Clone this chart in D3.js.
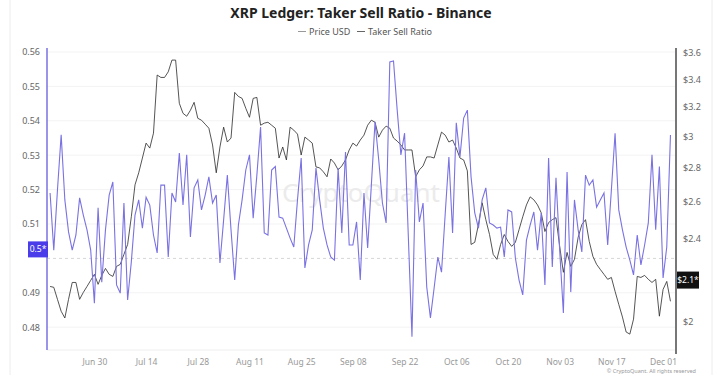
<!DOCTYPE html>
<html>
<head>
<meta charset="utf-8">
<script src="https://cdn.jsdelivr.net/npm/d3@7"></script>
<style>
  body { margin: 0; background: #fff; }
  svg { display: block; font-family: "Noto Sans", "Open Sans", sans-serif; }
</style>
</head>
<body>
<div id="chart"></div>
<script>
const TITLE = 'XRP Ledger: Taker Sell Ratio - Binance';
const SERIES = ['Price USD', 'Taker Sell Ratio'];
const START_DAY = '2025-06-18';
const END_DAY = '2025-12-03';

// daily taker sell ratio (left axis)
const ratio = [
  0.5190, 0.5024, 0.5199, 0.5359, 0.5170, 0.5077, 0.5024, 0.5068, 0.5176, 0.5126,
  0.5083, 0.5024, 0.4870, 0.5147, 0.4931, 0.5083, 0.5184, 0.5222, 0.4923, 0.4899,
  0.5161, 0.4879, 0.4990, 0.5126, 0.5170, 0.5088, 0.5178, 0.5155, 0.5068, 0.5016,
  0.5213, 0.5213, 0.5004, 0.5190, 0.5164, 0.5306, 0.5155, 0.5301, 0.5062, 0.5205,
  0.5228, 0.5141, 0.5184, 0.5237, 0.5161, 0.5184, 0.4987, 0.5112, 0.5242, 0.5083,
  0.4937, 0.5097, 0.5170, 0.5257, 0.5301, 0.5117, 0.5242, 0.5382, 0.5074, 0.5068,
  0.5257, 0.5267, 0.5120, 0.5117, 0.5088, 0.5059, 0.5033, 0.5170, 0.5292, 0.4972,
  0.5039, 0.5083, 0.5263, 0.5170, 0.5088, 0.5039, 0.5004, 0.4995, 0.5263, 0.5074,
  0.5309, 0.5039, 0.5039, 0.5106, 0.4937, 0.5190, 0.5030, 0.5213, 0.5397, 0.5286,
  0.5161, 0.5103, 0.5571, 0.5574, 0.5431, 0.5301, 0.5364, 0.5068, 0.4772, 0.5257,
  0.5106, 0.5161, 0.4917, 0.4827, 0.4914, 0.5004, 0.4960, 0.5129, 0.5295, 0.5074,
  0.5394, 0.5295, 0.5408, 0.5431, 0.5237, 0.5132, 0.5088, 0.5170, 0.5205, 0.5103,
  0.5097, 0.5088, 0.5091, 0.5004, 0.5141, 0.5135, 0.5001, 0.4937, 0.4894, 0.5053,
  0.5097, 0.5135, 0.5024, 0.5132, 0.4923, 0.5292, 0.4975, 0.5234, 0.5024, 0.4841,
  0.5251, 0.4902, 0.5170, 0.5083, 0.5019, 0.5242, 0.5213, 0.5228, 0.5149, 0.5170,
  0.5190, 0.5039, 0.5199, 0.5364, 0.5141, 0.5083, 0.5033, 0.4995, 0.4952, 0.5068,
  0.4981, 0.5039, 0.5103, 0.5301, 0.5083, 0.5267, 0.4943, 0.5033, 0.5359
];

// daily XRP price in USD (right axis, log)
const price = [
  2.160, 2.156, 2.100, 2.046, 2.016, 2.100, 2.179, 2.179, 2.100, 2.132,
  2.160, 2.189, 2.218, 2.170, 2.213, 2.247, 2.218, 2.208, 2.257, 2.267,
  2.317, 2.368, 2.516, 2.698, 2.770, 2.861, 2.956, 2.924, 3.021, 3.431,
  3.413, 3.413, 3.455, 3.545, 3.545, 3.225, 3.155, 3.135, 3.176, 3.232,
  3.121, 3.108, 3.081, 3.054, 2.944, 2.770, 2.931, 3.061, 2.963, 2.989,
  3.303, 3.274, 3.260, 3.190, 3.128, 3.260, 3.267, 3.074, 3.088, 3.094,
  3.074, 3.054, 2.861, 2.931, 2.849, 3.061, 3.041, 3.015, 2.880, 2.995,
  2.976, 2.956, 2.806, 2.800, 2.776, 2.746, 2.855, 2.830, 2.788, 2.812,
  2.849, 2.912, 2.956, 2.937, 2.976, 3.008, 3.074, 3.108, 3.094, 2.995,
  3.041, 3.068, 3.054, 2.989, 2.969, 2.944, 2.912, 2.912, 2.912, 2.746,
  2.788, 2.812, 2.868, 2.868, 2.861, 2.944, 3.028, 3.008, 2.963, 2.976,
  2.924, 2.861, 2.849, 2.782, 2.368, 2.379, 2.473, 2.594, 2.500, 2.420,
  2.317, 2.292, 2.368, 2.420, 2.384, 2.358, 2.379, 2.446, 2.516, 2.582,
  2.628, 2.611, 2.582, 2.538, 2.436, 2.484, 2.500, 2.511, 2.358, 2.228,
  2.327, 2.257, 2.292, 2.405, 2.473, 2.500, 2.384, 2.307, 2.267, 2.242,
  2.218, 2.194, 2.203, 2.137, 2.077, 2.020, 1.955, 1.946, 2.011, 2.208,
  2.203, 2.213, 2.194, 2.179, 2.194, 2.024, 2.146, 2.184, 2.091
];

const xTickLabels = ['Jun 30', 'Jul 14', 'Jul 28', 'Aug 11', 'Aug 25', 'Sep 08',
  'Sep 22', 'Oct 06', 'Oct 20', 'Nov 03', 'Nov 17', 'Dec 01'];
const ratioTicks = [0.48, 0.49, 0.5, 0.51, 0.52, 0.53, 0.54, 0.55, 0.56];
const priceTicks = [2, 2.2, 2.4, 2.6, 2.8, 3, 3.2, 3.4, 3.6];
const markerLabels = ['0.5*', '$2.1*'];
const markerValues = [0.5, 2.2];

const W = 720, H = 375;
const plotL = 47, plotR = 676, plotT = 48, plotB = 350;
const purple = '#7a72e2';

const parseDay = d3.timeParse('%Y-%m-%d');
const parseTick = d3.timeParse('%b %d %Y');
const days = d3.timeDay.range(parseDay(START_DAY), d3.timeDay.offset(parseDay(END_DAY), 1));
const tickDates = xTickLabels.map(t => parseTick(t + ' 2025'));

const x = d3.scaleTime()
  .domain([new Date(2025, 5, 17, 4), new Date(2025, 11, 4, 12)])
  .range([plotL, plotR]);
const yL = d3.scaleLinear().domain([0.47337, 0.56116]).range([plotB, plotT]);
const yR = d3.scaleLog().domain([1.8796, 3.640]).range([plotB, plotT]);

const svg = d3.select('#chart').append('svg')
  .attr('width', W)
  .attr('height', H)
  .attr('viewBox', `0 0 ${W} ${H}`);

// card edges
svg.append('line').attr('x1', 10).attr('x2', 10).attr('y1', 0).attr('y2', H)
  .attr('stroke', '#ececec');
svg.append('line').attr('x1', 712).attr('x2', 712).attr('y1', 0).attr('y2', H)
  .attr('stroke', '#ececec');

// Title + legend
svg.append('text')
  .attr('x', 361).attr('y', 18)
  .attr('text-anchor', 'middle')
  .attr('font-size', 14).attr('font-weight', 700).attr('fill', '#222')
  .text(TITLE);

const legendX = [298, 357];
const legendColors = ['#999', '#666'];
SERIES.forEach((s, i) => {
  svg.append('line')
    .attr('x1', legendX[i]).attr('x2', legendX[i] + 8)
    .attr('y1', 31.5).attr('y2', 31.5)
    .attr('stroke', legendColors[i]).attr('stroke-width', 1);
  svg.append('text')
    .attr('x', legendX[i] + 11).attr('y', 34.5)
    .attr('font-size', 9).attr('fill', '#555')
    .text(s);
});

// grid
const gG = svg.append('g').attr('class', 'grid');
ratioTicks.forEach(t => {
  gG.append('line')
    .attr('x1', plotL).attr('x2', plotR)
    .attr('y1', yL(t)).attr('y2', yL(t))
    .attr('stroke', t === 0.5 ? '#d6d6d6' : '#f3f3f3')
    .attr('stroke-dasharray', t === 0.5 ? '3,3' : null);
});
gG.append('line')
  .attr('x1', plotL).attr('x2', plotR)
  .attr('y1', plotB).attr('y2', plotB)
  .attr('stroke', '#eeeeee');

// watermark
svg.append('text')
  .attr('x', 361).attr('y', 202)
  .attr('text-anchor', 'middle')
  .attr('font-size', 26).attr('fill', '#ebebeb')
  .text('CryptoQuant');

// lines
const pricePts = days.map((d, i) => [d, price[i]]);
const ratioPts = days.map((d, i) => [d, ratio[i]]);

svg.append('path')
  .datum(pricePts)
  .attr('fill', 'none')
  .attr('stroke', '#2a2a2a')
  .attr('stroke-width', 0.8)
  .attr('d', d3.line().x(d => x(d[0])).y(d => yR(d[1])));

svg.append('path')
  .datum(ratioPts)
  .attr('fill', 'none')
  .attr('stroke', purple)
  .attr('stroke-width', 1.1)
  .attr('d', d3.line().x(d => x(d[0])).y(d => yL(d[1])));

// Axes (tick labels under the value markers are hidden, as in the source)
const axL = svg.append('g')
  .attr('transform', `translate(${plotL},0)`)
  .call(d3.axisLeft(yL).tickValues(ratioTicks.filter(t => t !== markerValues[0]))
    .tickSize(0).tickPadding(7)
    .tickFormat(d3.format('.2~f')));
const axR = svg.append('g')
  .attr('transform', `translate(${plotR},0)`)
  .call(d3.axisRight(yR).tickValues(priceTicks.filter(t => t !== markerValues[1]))
    .tickSize(0).tickPadding(7)
    .tickFormat(d => '$' + d3.format('~g')(d)));
const axB = svg.append('g')
  .attr('transform', `translate(0,${plotB})`)
  .call(d3.axisBottom(x).tickValues(tickDates).tickSize(0).tickPadding(9)
    .tickFormat(d3.timeFormat('%b %d')));

[axL, axR, axB].forEach(a => {
  a.select('.domain').remove();
  a.selectAll('text')
    .attr('font-family', '"Noto Sans", "Open Sans", sans-serif')
    .attr('fill', '#666')
    .attr('font-size', 9);
});
axB.selectAll('text').attr('fill', '#999').attr('font-size', 8.5);

svg.append('line')
  .attr('x1', plotL).attr('x2', plotL).attr('y1', plotT).attr('y2', plotB)
  .attr('stroke', purple).attr('stroke-width', 1.5);
svg.append('line')
  .attr('x1', plotR).attr('x2', plotR).attr('y1', plotT).attr('y2', plotB + 4)
  .attr('stroke', '#777').attr('stroke-width', 2);

// value markers
const mL = yL(markerValues[0]) - 9;
svg.append('rect')
  .attr('x', 28).attr('y', mL - 8).attr('width', 20).attr('height', 16)
  .attr('fill', '#4a3ce8');
svg.append('text')
  .attr('x', 38).attr('y', mL + 3)
  .attr('text-anchor', 'middle')
  .attr('font-size', 8.5).attr('fill', '#fff')
  .text(markerLabels[0]);

const mR = yR(markerValues[1]) + 2;
svg.append('rect')
  .attr('x', 677).attr('y', mR - 8.5).attr('width', 22).attr('height', 17)
  .attr('fill', '#111');
svg.append('text')
  .attr('x', 688).attr('y', mR + 3)
  .attr('text-anchor', 'middle')
  .attr('font-size', 8.5).attr('fill', '#fff')
  .text(markerLabels[1]);

// copyright
svg.append('text')
  .attr('x', 696).attr('y', 373)
  .attr('text-anchor', 'end')
  .attr('font-size', 5.5).attr('fill', '#999')
  .text('© CryptoQuant. All rights reserved');
</script>
</body>
</html>
